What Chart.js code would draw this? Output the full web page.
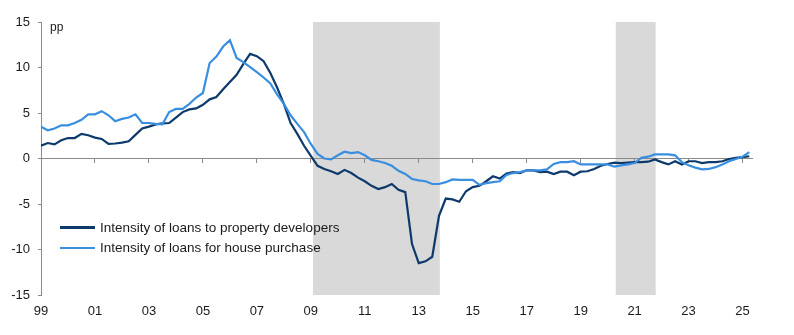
<!DOCTYPE html>
<html>
<head>
<meta charset="utf-8">
<script src="https://cdn.jsdelivr.net/npm/chart.js@4.4.0/dist/chart.umd.min.js"></script>
<style>
  html, body { margin: 0; padding: 0; background: #fff; }
  #wrap { position: relative; width: 794px; height: 335px; font-family: 'Liberation Sans', Arial, Helvetica, sans-serif; color: #1a1a1a; }
  .unit { position: absolute; left: 50px; top: 20px; font-size: 12px; }
  .legend { position: absolute; left: 60px; top: 217px; font-size: 13.5px; }
  .legend .row { height: 20.5px; display: flex; align-items: center; }
  .legend .swatch { display: inline-block; width: 35px; height: 2.5px; margin-right: 5px; }
</style>
</head>
<body>
<div id="wrap">
  <canvas id="chart"></canvas>
  <div class="unit">pp</div>
  <div class="legend" id="legend"></div>
</div>
<script>
/* ---- data (quarterly, 1999Q1 – 2025Q2) ---- */
const startYear = 1999;
const developers = [
  1.4, 1.7, 1.55, 2.0, 2.25, 2.25, 2.7, 2.55, 2.3, 2.15,
  1.6, 1.65, 1.75, 1.9, 2.6, 3.3, 3.5, 3.75, 3.85, 3.9,
  4.5, 5.1, 5.4, 5.5, 5.9, 6.5, 6.75, 7.6, 8.4, 9.2,
  10.4, 11.5, 11.25, 10.7, 9.4, 7.8, 6.0, 3.9, 2.7, 1.4,
  0.3, -0.8, -1.15, -1.4, -1.7, -1.25, -1.6, -2.1, -2.5, -3.0,
  -3.35, -3.15, -2.8, -3.45, -3.7, -9.4, -11.5, -11.3, -10.8, -6.3,
  -4.4, -4.5, -4.75, -3.6, -3.15, -3.0, -2.5, -1.95, -2.2, -1.65,
  -1.5, -1.6, -1.3, -1.3, -1.5, -1.45, -1.7, -1.45, -1.45, -1.85,
  -1.45, -1.4, -1.15, -0.8, -0.6, -0.45, -0.5, -0.45, -0.4, -0.4,
  -0.35, -0.1, -0.4, -0.65, -0.3, -0.65, -0.3, -0.3, -0.5, -0.4,
  -0.4, -0.3, -0.05, 0.07, 0.15, 0.25
];
const housePurchase = [
  3.5, 3.1, 3.3, 3.65, 3.65, 3.9, 4.25, 4.85, 4.85, 5.2,
  4.75, 4.1, 4.35, 4.5, 4.85, 3.9, 3.9, 3.8, 3.75, 5.1,
  5.45, 5.45, 6.0, 6.7, 7.2, 10.5, 11.2, 12.3, 13.0, 11.05,
  10.6, 10.05, 9.5, 8.9, 8.25, 7.05, 6.0, 4.75, 3.8, 2.9,
  1.6, 0.5, 0.0, -0.1, 0.35, 0.75, 0.6, 0.7, 0.35, -0.15,
  -0.3, -0.5, -0.8, -1.35, -1.7, -2.25, -2.4, -2.5, -2.8, -2.8,
  -2.6, -2.3, -2.35, -2.35, -2.35, -2.9, -2.7, -2.6, -2.5, -1.8,
  -1.6, -1.5, -1.3, -1.3, -1.3, -1.2, -0.6, -0.4, -0.4, -0.3,
  -0.65, -0.65, -0.65, -0.65, -0.65, -0.9, -0.75, -0.65, -0.5, 0.07,
  0.2, 0.45, 0.45, 0.45, 0.35, -0.4, -0.75, -1.0, -1.2, -1.15,
  -0.95, -0.65, -0.3, -0.05, 0.2, 0.7
];
const seriesLabels = ['Intensity of loans to property developers', 'Intensity of loans for house purchase'];
const seriesColors = ['#0d3a6b', '#3a8ee0'];
const tickYears = [1999, 2001, 2003, 2005, 2007, 2009, 2011, 2013, 2015, 2017, 2019, 2021, 2023, 2025];
const tickLabels = ['99', '01', '03', '05', '07', '09', '11', '13', '15', '17', '19', '21', '23', '25'];
const shadeStart = [2009.08, 2020.3];
const shadeEnd = [2013.78, 2021.78];

const X_MIN = 1999, X_MAX = 2025.35;
const AXIS_GREY = '#8a8a8a';
const FONT = { family: "'Liberation Sans', Arial, Helvetica, sans-serif", size: 13 };

const toPoints = arr => arr.map((v, i) => ({ x: startYear + i / 4, y: v }));
const setYearTicks = scale => { scale.ticks = tickYears.map(v => ({ value: v })); };

const shadePlugin = {
    id: 'shade',
    beforeDraw(chart) {
        const { ctx, chartArea, scales } = chart;
        ctx.save();
        ctx.fillStyle = '#d9d9d9';
        shadeStart.forEach((s, k) => {
            const x0 = scales.x.getPixelForValue(s);
            const x1 = scales.x.getPixelForValue(shadeEnd[k]);
            ctx.fillRect(x0, chartArea.top, x1 - x0, chartArea.bottom - chartArea.top);
        });
        ctx.restore();
    }
};

new Chart(document.getElementById('chart'), {
    type: 'line',
    data: {
        datasets: [developers, housePurchase].map((arr, k) => ({
            label: seriesLabels[k],
            data: toPoints(arr),
            borderColor: seriesColors[k],
            borderWidth: 2.2,
            pointRadius: 0,
            tension: 0,
            fill: false,
        })).reverse(),
    },
    options: {
        responsive: true,
        maintainAspectRatio: false,
        animation: false,
        layout: { padding: { top: 22, right: 42, bottom: 0, left: 0 } },
        plugins: { legend: { display: false }, tooltip: { enabled: false } },
        scales: {
            x: {
                type: 'linear',
                position: { y: 0 },
                min: X_MIN, max: X_MAX,
                afterBuildTicks: setYearTicks,
                grid: { drawOnChartArea: false, drawTicks: true, tickLength: 4, color: AXIS_GREY },
                border: { color: AXIS_GREY, width: 1 },
                ticks: { color: 'rgba(0,0,0,0)', font: FONT },
            },
            x2: {
                type: 'linear',
                position: 'bottom',
                min: X_MIN, max: X_MAX,
                afterBuildTicks: setYearTicks,
                afterFit: s => { s.height = 40; },
                grid: { display: false, drawTicks: false },
                border: { display: false },
                ticks: { color: '#1a1a1a', font: FONT, padding: 9, maxRotation: 0,
                    callback: v => tickLabels[tickYears.indexOf(v)] },
            },
            y: {
                min: -15, max: 15,
                afterFit: s => { s.width = 41; },
                grid: { drawOnChartArea: false, drawTicks: true, tickLength: 3, color: AXIS_GREY },
                border: { color: AXIS_GREY, width: 1 },
                ticks: { stepSize: 5, color: '#1a1a1a', font: FONT, padding: 8 },
            },
        },
    },
    plugins: [shadePlugin],
});

/* ---- legend inside the plot ---- */
document.getElementById('legend').innerHTML = seriesLabels.map((t, k) =>
    `<div class="row"><span class="swatch" style="background:${seriesColors[k]}"></span>${t}</div>`
).join('');
</script>
</body>
</html>
